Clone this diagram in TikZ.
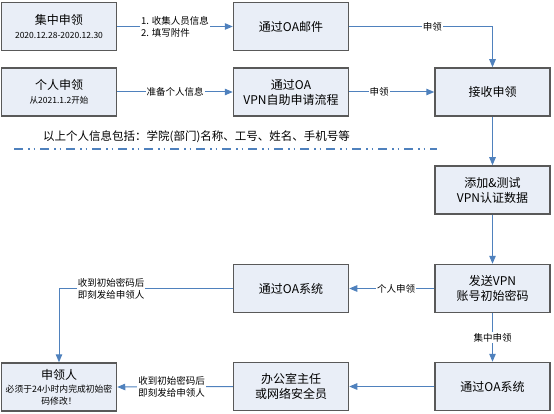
\documentclass[tikz,border=0pt]{standalone}
\usepackage{fontspec}
\setmainfont{Noto Sans CJK SC}
\usetikzlibrary{arrows.meta}
\definecolor{boxfill}{HTML}{E9EEF7}
\definecolor{boxline}{HTML}{595959}
\definecolor{linkblue}{HTML}{4F81BD}
\newcommand{\smallfnt}{\fontsize{8.5}{10}\selectfont}
\newcommand{\notefnt}{\fontsize{8.8}{11.5}\selectfont}
\tikzset{
  stepbox/.style={draw=boxline, fill=boxfill, line width=1.5pt, minimum width=115pt, minimum height=48pt, align=center, font=\fontsize{12}{15}\selectfont, inner sep=2pt},
  link/.style={draw=linkblue, line width=1pt, -{Triangle[length=8pt,width=6.5pt]}},
  lbl/.style={fill=white, inner sep=1pt, font=\fontsize{9.5}{12}\selectfont, align=left}
}
\begin{document}
\begin{tikzpicture}[x=1pt,y=-1pt]
\useasboundingbox (0,0) rectangle (554,414);
\node[stepbox] (jz) at (59,26.5) {集中申领\\[-1pt]{\smallfnt 2020.12.28-2020.12.30}};
\node[stepbox] (mail) at (291,26.5) {通过OA邮件};
\node[stepbox] (gr) at (59,92) {个人申领\\[-1pt]{\smallfnt 从2021.1.2开始}};
\node[stepbox] (vpn) at (291,92) {通过OA\\VPN自助申请流程};
\node[stepbox] (recv) at (492.5,92) {接收申领};
\node[stepbox] (add) at (492.5,190) {添加\&测试\\VPN认证数据};
\node[stepbox] (send) at (492.5,288.5) {发送VPN\\账号初始密码};
\node[stepbox] (sys1) at (291,288.5) {通过OA系统};
\node[stepbox] (sys2) at (492.5,386.5) {通过OA系统};
\node[stepbox] (office) at (291,386.5) {办公室主任\\或网络安全员};
\node[stepbox] (app) at (59,387) {申领人\\[-2pt]{\notefnt 必须于24小时内完成初始密}\\[-3pt]{\notefnt 码修改！}};

\node[anchor=west, font=\fontsize{11.5}{14}\selectfont, inner sep=0pt] (note) at (43,137) {以上个人信息包括：学院(部门)名称、工号、姓名、手机号等};
\coordinate (dl) at (14,149);
\coordinate (dr) at (437,149);
\draw[linkblue, line width=1.6pt, dash pattern=on 9pt off 5pt on 1.5pt off 4pt on 1.5pt off 5pt] (dl) -- (dr);

\draw[link] (jz.east) -- node[lbl] {1. 收集人员信息\\2. 填写附件} (mail.west);
\draw[link] (mail.east) -- node[lbl, pos=0.58] {申领} (recv.north |- mail.east) -- (recv.north);
\draw[link] (gr.east) -- node[lbl] {准备个人信息} (vpn.west);
\draw[link] (vpn.east) -- node[lbl, pos=0.35] {申领} (recv.west);
\draw[link] (recv.south) -- (add.north);
\draw[link] (add.south) -- (send.north);
\draw[link] (send.west) -- node[lbl, pos=0.45] {个人申领} (sys1.east);
\coordinate (corner) at (app.north |- sys1.west);
\draw[link] (sys1.west) -- node[lbl, pos=0.7] {收到初始密码后\\即刻发给申领人} (corner) -- (app.north);
\draw[link] (send.south) -- node[lbl] {集中申领} (sys2.north);
\draw[link] (sys2.west) -- (office.east);
\draw[link] (office.west) -- node[lbl, pos=0.53] {收到初始密码后\\即刻发给申领人} (app.east);
\end{tikzpicture}
\end{document}
